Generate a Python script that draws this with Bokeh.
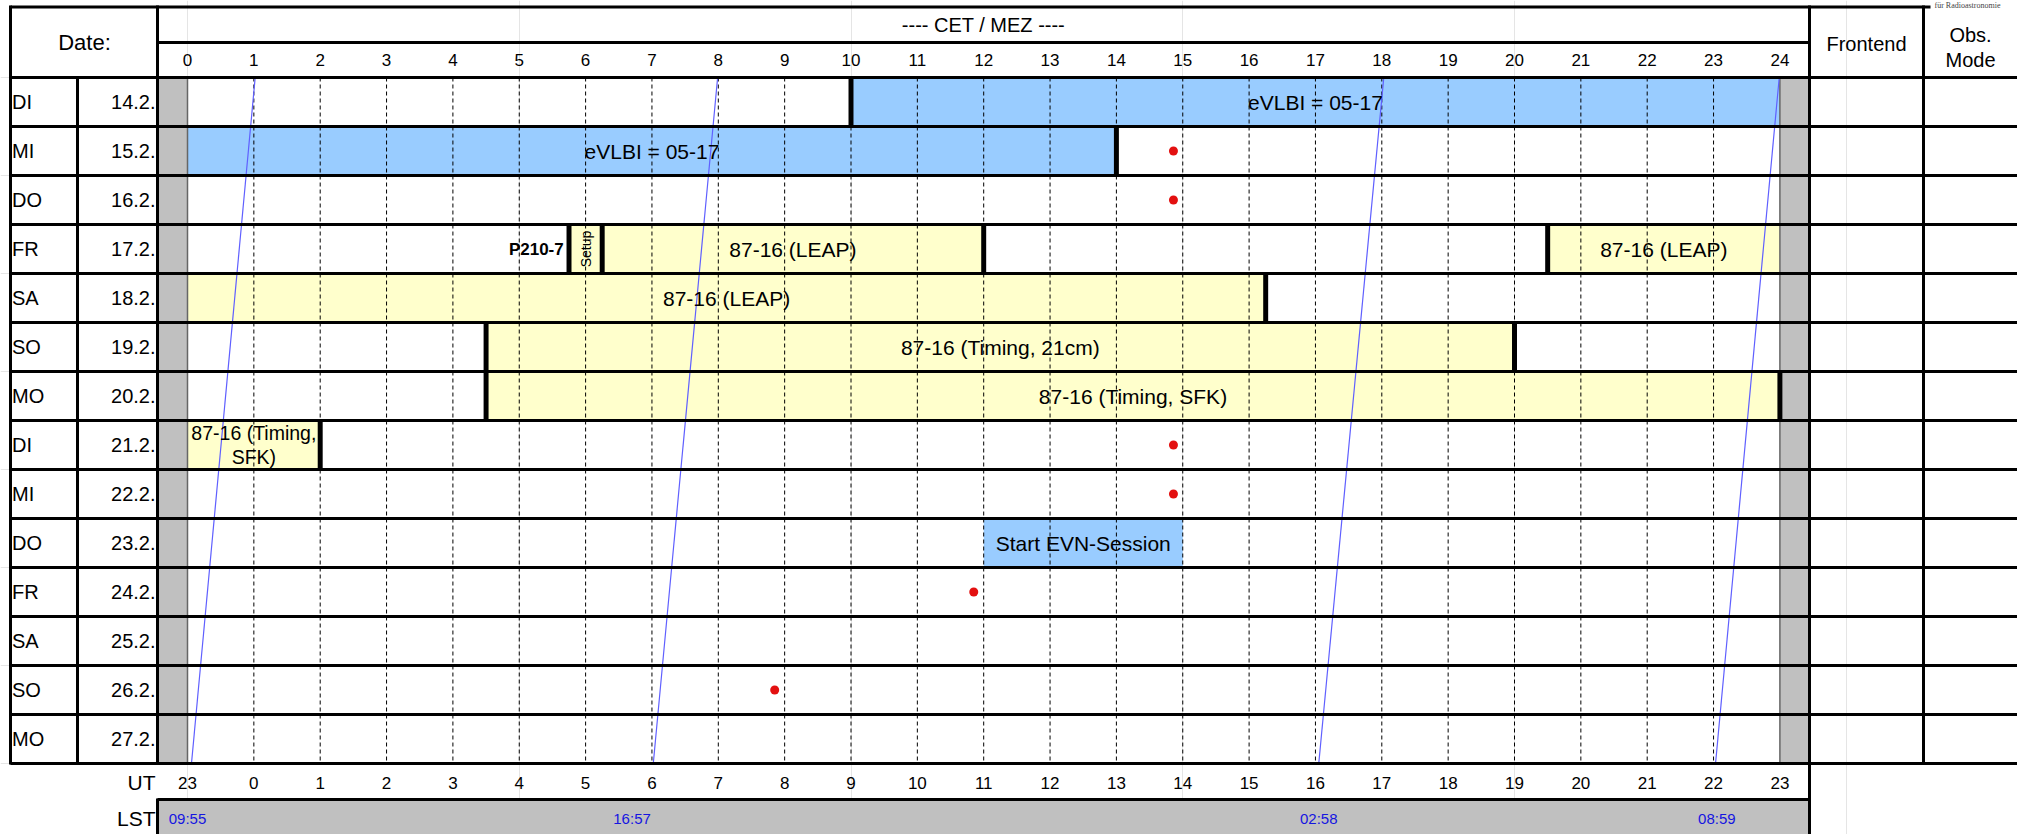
import math
from bokeh.plotting import figure
from bokeh.models import Range1d, ColumnDataSource
from bokeh.core.properties import value
from bokeh.embed import file_html
from bokeh.resources import INLINE

# ---------------- data ----------------
day_names = ["DI", "MI", "DO", "FR", "SA", "SO", "MO", "DI", "MI", "DO", "FR", "SA", "SO", "MO"]
dates = ["14.2.", "15.2.", "16.2.", "17.2.", "18.2.", "19.2.", "20.2.",
         "21.2.", "22.2.", "23.2.", "24.2.", "25.2.", "26.2.", "27.2."]

cet_tick_hours = list(range(25))
cet_tick_labels = [str(h) for h in cet_tick_hours]
ut_tick_labels = ["23", "0", "1", "2", "3", "4", "5", "6", "7", "8", "9", "10", "11",
                  "12", "13", "14", "15", "16", "17", "18", "19", "20", "21", "22", "23"]

block_rows = [0, 1, 3, 3, 3, 4, 5, 6, 7, 9]
block_starts = [10, 0, 5.75, 6.25, 20.5, 0, 4.5, 4.5, 0, 12]
block_ends = [24, 14, 6.25, 12, 24, 16.25, 20, 24, 2, 15]
block_types = ["vlbi", "vlbi", "setup", "proj", "proj", "proj", "proj", "proj", "proj", "vlbi"]
block_labels = ["eVLBI = 05-17", "eVLBI = 05-17", "Setup", "87-16 (LEAP)", "87-16 (LEAP)",
                "87-16 (LEAP)", "87-16 (Timing, 21cm)", "87-16 (Timing, SFK)",
                "87-16 (Timing,\nSFK)", "Start EVN-Session"]

marker_rows = [0, 1, 3, 3, 3, 3, 4, 5, 5, 6, 6, 7]
marker_hours = [10, 14, 5.75, 6.25, 12, 20.5, 16.25, 4.5, 20, 4.5, 24, 2]

dot_rows = [1, 2, 7, 8, 10, 12]
dot_hours = [14.86, 14.86, 14.86, 14.86, 11.85, 8.85]

lst_line_bottom_hours = [0.06, 7.02, 17.05, 23.03]
lst_line_top_hours = [1.02, 7.99, 18.03, 23.99]
lst_labels = ["09:55", "16:57", "02:58", "08:59"]
lst_label_hours = [0.0, 6.7, 17.05, 23.05]

note_label = "P210-7"
note_row = 3
note_end_hour = 5.75

# ---------------- layout (page pixels -> data units) ----------------
W, H = 2017, 834
H0, HW = 187.0, 66.35   # x pixel of hour 0, pixels per hour
R0, RH = 77.0, 49.0     # y pixel of first row top, row height
NROWS = len(dates)


def HX(px):
    return (px - H0) / HW


def RY(py):
    return (py - R0) / RH


FONT = value("Liberation Sans")
BLUE = "#99CCFF"
YELLOW = "#FFFFCC"
GRAY = "#C0C0C0"
type_color = {"vlbi": BLUE, "setup": YELLOW, "proj": YELLOW}

p = figure(width=W, height=H,
           x_range=Range1d(HX(0), HX(W)), y_range=Range1d(RY(H), RY(0)),
           output_backend="svg", toolbar_location=None,
           x_axis_location=None, y_axis_location=None, min_border=0)
p.outline_line_color = None
p.background_fill_color = "white"
p.border_fill_color = "white"

# gray side strips and LST bar
p.quad(left=[HX(157), 24], right=[0, HX(1809)], top=[0, 0], bottom=[NROWS, NROWS],
       fill_color=GRAY, line_color=None)
p.quad(left=[HX(157)], right=[HX(1809)], top=[RY(799)], bottom=[RY(845)],
       fill_color=GRAY, line_color=None)

# schedule blocks
bsrc = ColumnDataSource(dict(
    left=block_starts, right=block_ends,
    top=block_rows, bottom=[r + 1 for r in block_rows],
    color=[type_color[t] for t in block_types],
))
p.quad(left="left", right="right", top="top", bottom="bottom", source=bsrc,
       fill_color="color", line_color=None)

# dashed hour grid
grid_hours = [h for h in cet_tick_hours if 0 < h < 24]
p.segment(x0=grid_hours, y0=[0] * len(grid_hours), x1=grid_hours, y1=[NROWS] * len(grid_hours),
          line_color="black", line_width=1, line_dash="4 3")
# hour 0 / 24 boundaries
p.segment(x0=[0, 24], y0=[0, 0], x1=[0, 24], y1=[NROWS, NROWS], line_color="#666666", line_width=1.5)

# LST lines
p.segment(x0=lst_line_bottom_hours, y0=[NROWS] * 4, x1=lst_line_top_hours, y1=[0] * 4,
          line_color="#5F5FFF", line_width=1.2)

# block boundary markers
p.vbar(x=marker_hours, width=0.075, top=marker_rows, bottom=[r + 1 for r in marker_rows],
       fill_color="black", line_color=None)

# red dots
p.scatter(x=dot_hours, y=[r + 0.5 for r in dot_rows], size=9, fill_color="#E31010", line_color=None)

# table frame
hlines = [(10, 6.5, 1930, 6.5, 3), (157, 42, 1809, 42, 3), (157, 799, 1809, 799, 3)]
for k in range(NROWS + 1):
    hlines.append((10, R0 + RH * k, W + 5, R0 + RH * k, 3))
vlines = [(10, 5, 10, 764, 3), (77, 77, 77, 764, 3), (157, 5, 157, 764, 3),
          (157, 798, 157, 845, 3), (1809, 5, 1809, 845, 3), (1923, 5, 1923, 764, 3)]
for (x0, y0, x1, y1, w) in hlines + vlines:
    p.segment(x0=[HX(x0)], y0=[RY(y0)], x1=[HX(x1)], y1=[RY(y1)], line_color="black", line_width=w)

# block labels (two-line label set a bit smaller so that it fits its short block)
main_idx = [i for i, t in enumerate(block_types) if t != "setup"]
lsrc = ColumnDataSource(dict(
    x=[(block_starts[i] + block_ends[i]) / 2 for i in main_idx],
    y=[block_rows[i] + 0.5 for i in main_idx],
    text=[block_labels[i] for i in main_idx],
    size=["19.5px" if "\n" in block_labels[i] else "21px" for i in main_idx],
))
p.text(x="x", y="y", text="text", source=lsrc,
       text_font=FONT, text_font_size="size", text_align="center", text_baseline="middle",
       text_line_height=1.08, text_color="black")
setup_idx = [i for i, t in enumerate(block_types) if t == "setup"]
p.text(x=[(block_starts[i] + block_ends[i]) / 2 for i in setup_idx],
       y=[block_rows[i] + 0.5 for i in setup_idx],
       text=[block_labels[i] for i in setup_idx], angle=math.pi / 2,
       text_font=FONT, text_font_size="14px", text_align="center", text_baseline="middle",
       text_color="black")
p.text(x=[note_end_hour - 0.08], y=[note_row + 0.5], text=[note_label],
       text_font=FONT, text_font_size="17px", text_font_style="bold",
       text_align="right", text_baseline="middle", text_color="black")

# row labels
p.text(x=[HX(11.5)] * NROWS, y=[r + 0.5 for r in range(NROWS)], text=day_names,
       text_font=FONT, text_font_size="20px", text_align="left", text_baseline="middle")
p.text(x=[HX(155)] * NROWS, y=[r + 0.5 for r in range(NROWS)], text=dates,
       text_font=FONT, text_font_size="20px", text_align="right", text_baseline="middle")

# header
p.text(x=[HX(84)], y=[RY(42)], text=["Date:"], text_font=FONT, text_font_size="22px",
       text_align="center", text_baseline="middle")
p.text(x=[HX(983)], y=[RY(24)], text=["---- CET / MEZ ----"], text_font=FONT, text_font_size="20px",
       text_align="center", text_baseline="middle")
p.text(x=cet_tick_hours, y=[RY(59)] * len(cet_tick_hours), text=cet_tick_labels, text_font=FONT,
       text_font_size="17px", text_align="center", text_baseline="middle")
p.text(x=[HX(1866)], y=[RY(43)], text=["Frontend"], text_font=FONT, text_font_size="20px",
       text_align="center", text_baseline="middle")
p.text(x=[HX(1970)], y=[RY(47)], text=["Obs.\nMode"], text_font=FONT, text_font_size="20px",
       text_align="center", text_baseline="middle", text_line_height=1.1)
p.text(x=[HX(1934)], y=[RY(4.5)], text=["für Radioastronomie"], text_font=value("Liberation Serif"),
       text_font_size="8px", text_align="left", text_baseline="middle", text_color="#444444")

# bottom UT / LST
p.text(x=[HX(155)], y=[RY(782)], text=["UT"], text_font=FONT, text_font_size="21px",
       text_align="right", text_baseline="middle")
p.text(x=cet_tick_hours, y=[RY(782)] * len(cet_tick_hours), text=ut_tick_labels, text_font=FONT,
       text_font_size="17px", text_align="center", text_baseline="middle")
p.text(x=[HX(155)], y=[RY(818)], text=["LST"], text_font=FONT, text_font_size="21px",
       text_align="right", text_baseline="middle")
p.text(x=lst_label_hours, y=[RY(818)] * len(lst_labels), text=lst_labels, text_font=FONT,
       text_font_size="15px", text_align="center", text_baseline="middle", text_color="#1515E0")

open("out.html", "w").write(file_html(p, INLINE))
